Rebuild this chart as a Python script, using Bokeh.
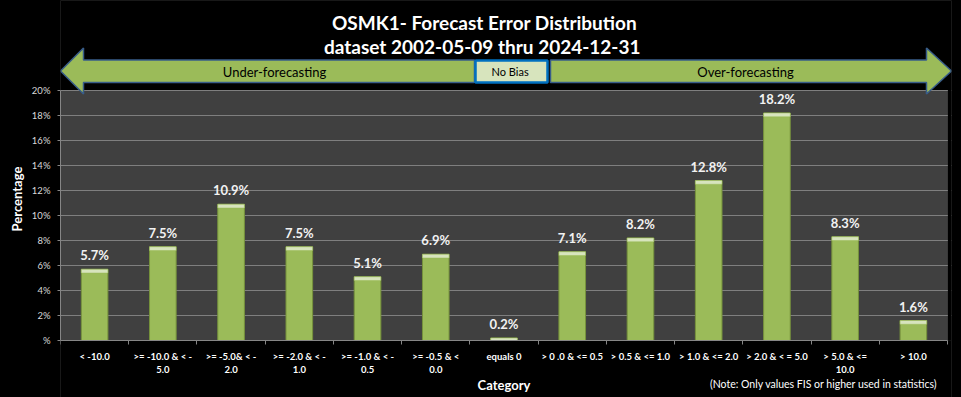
import math
from bokeh.plotting import figure
from bokeh.models import Range1d, FixedTicker, Label, ColumnDataSource
from bokeh.core.properties import value
from bokeh.embed import file_html
from bokeh.resources import INLINE

# ---------------- data ----------------
categories = ["< -10.0", ">= -10.0 & < -\n5.0", ">= -5.0& < -\n2.0", ">= -2.0 & < -\n1.0",
              ">= -1.0 & < -\n0.5", ">= -0.5 & <\n0.0", "equals 0", "> 0 .0 & <= 0.5",
              "> 0.5 & <= 1.0", "> 1.0 & <= 2.0", "> 2.0 & < = 5.0", "> 5.0 & <=\n10.0", "> 10.0"]
percentages = [5.7, 7.5, 10.9, 7.5, 5.1, 6.9, 0.2, 7.1, 8.2, 12.8, 18.2, 8.3, 1.6]
y_ticks = [0, 2, 4, 6, 8, 10, 12, 14, 16, 18, 20]
y_tick_labels = ["%", "2%", "4%", "6%", "8%", "10%", "12%", "14%", "16%", "18%", "20%"]
title_lines = ["OSMK1- Forecast Error Distribution", "dataset 2002-05-09  thru 2024-12-31"]
band_labels = ["Under-forecasting", "No  Bias", "Over-forecasting"]
x_title = "Category"
y_title = "Percentage"
note = "(Note: Only values FIS or higher used in statistics)"

# ---------------- layout helpers (page pixels -> data) ----------------
W, H = 961, 397
N = len(categories)
PXC = 887.0 / N      # pixels per category
PXU = 12.5           # pixels per percent
def wx(X):
    return (X - 60.0) / PXC
def wy(Y):
    return (340.0 - Y) / PXU

x_end = wx(951)
y_top = wy(0)
y_bot = wy(H)
FRAME_W = 891

p = figure(width=W, height=H, output_backend="svg", toolbar_location=None,
           x_range=Range1d(0, x_end), y_range=Range1d(y_bot, y_top),
           min_border_left=60, min_border_right=W - 60 - FRAME_W, min_border_top=0,
           min_border_bottom=0)
p.border_fill_color = "black"
p.background_fill_color = "#404040"
p.outline_line_color = None

# x axis drawn at the 0% line
centers = [i + 0.5 for i in range(N)]
bounds_x = list(range(N + 1))
xa = p.xaxis[0]
xa.fixed_location = 0
xa.ticker = FixedTicker(ticks=centers, minor_ticks=bounds_x)
xa.major_label_overrides = {c: lab for c, lab in zip(centers, categories)}
xa.bounds = (0, N)
xa.axis_line_color = "#868686"
xa.major_tick_out = 0
xa.major_tick_in = 0
xa.minor_tick_out = 4
xa.minor_tick_in = 0
xa.minor_tick_line_color = "#868686"
xa.major_label_standoff = 6
xa.major_label_text_font = "Lato"
xa.major_label_text_font_style = "bold"
xa.major_label_text_font_size = "9.5px"
xa.major_label_text_color = "white"
xa.axis_label = x_title
xa.axis_label_standoff = -1
xa.axis_label_text_font = "Lato"
xa.axis_label_text_font_style = "bold"
xa.axis_label_text_font_size = "13px"
xa.axis_label_text_color = "white"

p.yaxis.ticker = FixedTicker(ticks=y_ticks, minor_ticks=[])
p.yaxis.major_label_overrides = {t: lab for t, lab in zip(y_ticks, y_tick_labels)}
p.yaxis.bounds = (0, 20)
p.yaxis.axis_line_color = "#868686"
p.yaxis.major_tick_out = 3
p.yaxis.major_tick_in = 0
p.yaxis.major_tick_line_color = "#868686"
p.yaxis.minor_tick_line_color = None
p.yaxis.major_label_standoff = 7
p.yaxis.major_label_text_font = "Lato"
p.yaxis.major_label_text_font_size = "9.5px"
p.yaxis.major_label_text_color = "#d9d9d9"
p.yaxis.axis_label = y_title
p.yaxis.axis_label_text_font = "Lato"
p.yaxis.axis_label_text_font_style = "bold"
p.yaxis.axis_label_text_font_size = "13px"
p.yaxis.axis_label_text_color = "white"
p.yaxis.axis_label_standoff = 4

p.xgrid.grid_line_color = None
p.ygrid.ticker = FixedTicker(ticks=y_ticks[1:])
p.ygrid.grid_line_color = "#7f7f7f"
p.ygrid.grid_line_width = 1

# black areas outside the plot area (above 20%, below 0%, right strip)
edge = 0.6 / PXU
p.quad(left=[0, N + 0.4 / PXC, 0], right=[x_end, x_end, x_end],
       bottom=[20 + edge, 0, y_bot], top=[y_top, 20 + edge, 0],
       fill_color="black", line_color=None)

# bars
src = ColumnDataSource(dict(x=centers, top=percentages,
                            hl=[max(v - 0.3, 0) for v in percentages],
                            lab=[f"{v:.1f}%" for v in percentages]))
p.vbar(x="x", top="top", bottom=0, width=0.39, source=src,
       fill_color="#9bbb59", line_color="#76923c", line_width=1)
p.vbar(x="x", top="top", bottom="hl", width=0.39, source=src,
       fill_color="#d7e4bd", line_color="#9bbb59", line_width=0.5)
p.text(x="x", y="top", text="lab", source=src, text_align="center",
       text_baseline="bottom", y_offset=-6, text_font=value("Lato"),
       text_font_style="bold", text_font_size="13px", text_color="#f2f2f2")

# arrows
left_arrow_x = [wx(60), wx(83), wx(83), wx(474), wx(474), wx(83), wx(83)]
left_arrow_y = [wy(70.5), wy(47.5), wy(59.5), wy(59.5), wy(82), wy(82), wy(93.5)]
right_arrow_x = [wx(550), wx(926), wx(926), wx(951), wx(926), wx(926), wx(550)]
right_arrow_y = [wy(59.5), wy(59.5), wy(47.5), wy(70.5), wy(93.5), wy(82), wy(82)]
p.patches(xs=[left_arrow_x, right_arrow_x], ys=[left_arrow_y, right_arrow_y],
          fill_color="#9bbb59", line_color="#385d8a", line_width=1.5)
p.quad(left=[wx(475)], right=[wx(547)], bottom=[wy(82)], top=[wy(60)],
       fill_color="#d7e4bd", line_color="#0070c0", line_width=2.5)

band_x = [wx(274), wx(511), wx(745)]
for bx, t, fs in zip(band_x, band_labels, ["13px", "11px", "13px"]):
    p.add_layout(Label(x=bx, y=wy(71), text=t, text_align="center", text_baseline="middle",
                       text_font="Lato", text_font_size=fs, text_color="black"))

# title
for t, Y in zip(title_lines, [22, 46]):
    p.add_layout(Label(x=wx(484), y=wy(Y), text=t, text_align="center", text_baseline="middle",
                       text_font="Lato", text_font_style="bold", text_font_size="19px",
                       text_color="white"))

p.add_layout(Label(x=wx(937), y=wy(383), text=note, text_align="right",
                   text_baseline="middle", text_font="Lato",
                   text_font_size="10.5px", text_color="white"))

html = file_html(p, INLINE)
html = html.replace("</head>", "<style>html,body{margin:0;padding:0;background:#000;}</style></head>", 1)
open("out.html", "w").write(html)
